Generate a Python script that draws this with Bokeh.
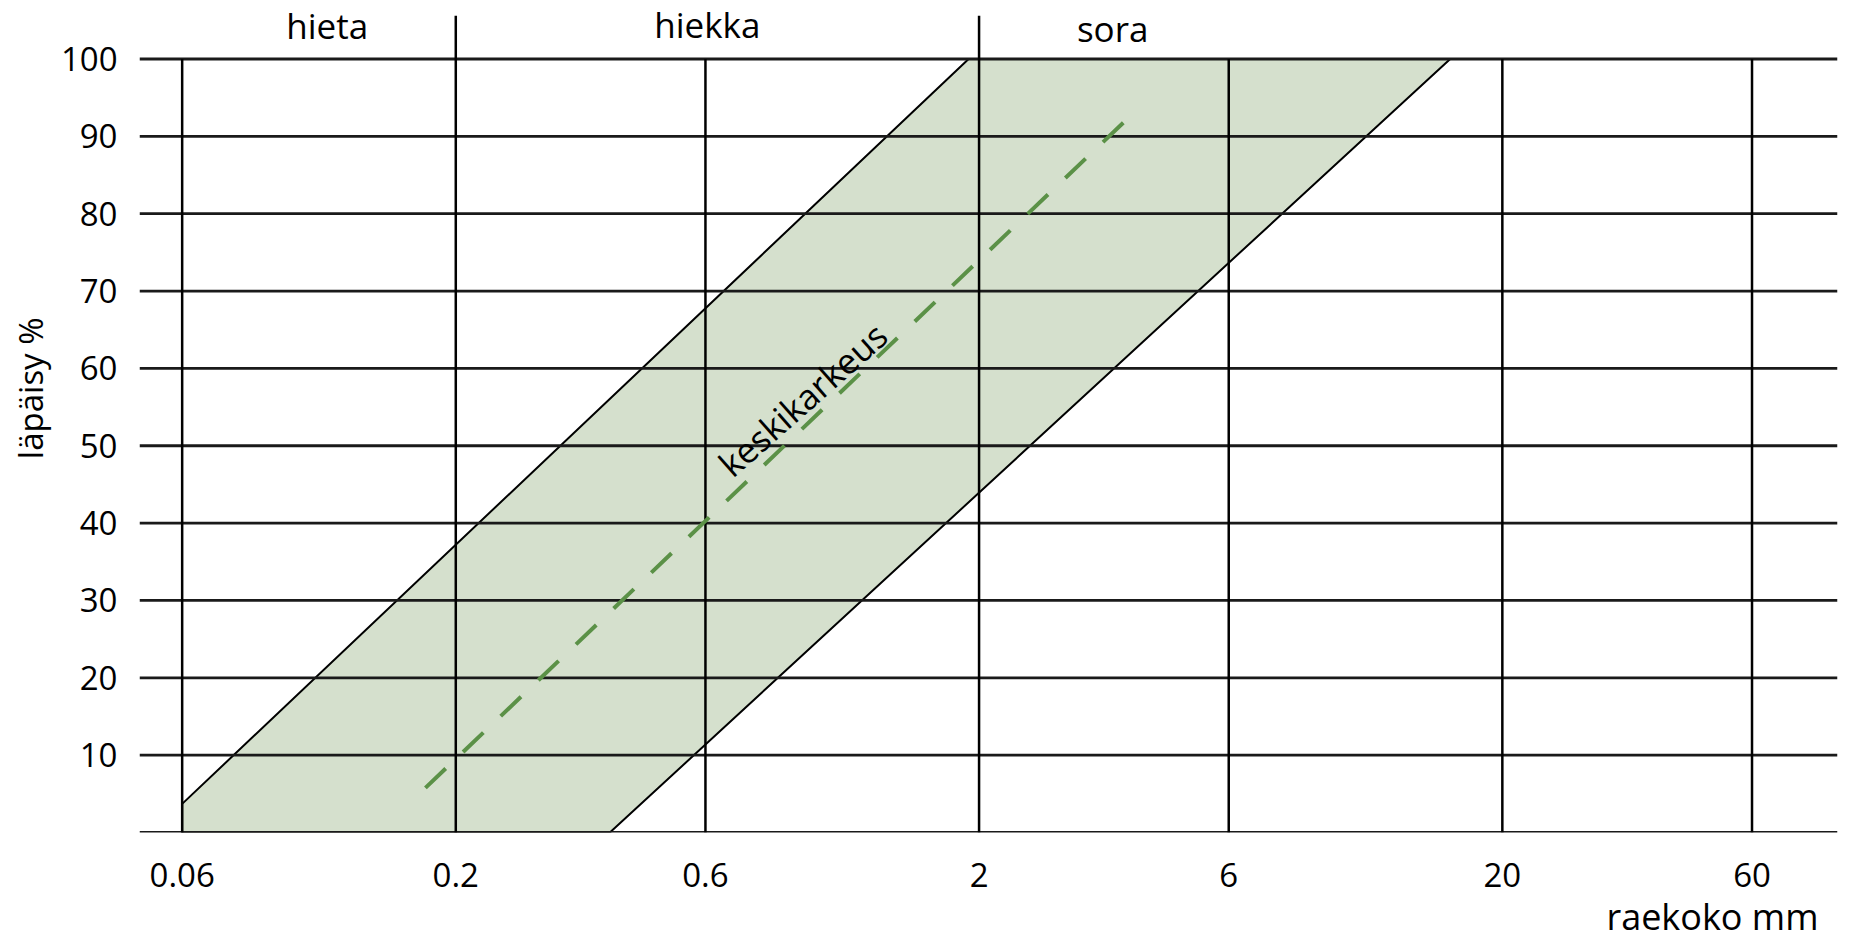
from bokeh.plotting import figure
from bokeh.models import FixedTicker, Label, Title
from bokeh.embed import file_html
from bokeh.resources import INLINE

# ---- data ----
x_ticks = [0.06, 0.2, 0.6, 2, 6, 20, 60]
x_tick_labels = ["0.06", "0.2", "0.6", "2", "6", "20", "60"]
y_ticks = [10, 20, 30, 40, 50, 60, 70, 80, 90, 100]
y_lines = [0, 10, 20, 30, 40, 50, 60, 70, 80, 90, 100]

# grading band (passing %, grain size mm)
band_x = [0.06, 0.06, 1.91, 15.9, 0.394]
band_y = [0, 3.7, 100, 100, 0]

# median line "keskikarkeus"
median_x = [0.175, 3.93]
median_y = [5.77, 92.9]

# soil class names and borders
class_names = ["hieta", "hiekka", "sora"]
class_x = [0.1136, 0.605, 3.60]
class_y = [104.3, 104.4, 103.9]
class_bounds = [0.2, 2]
class_bound_top = 105.6

X_MIN, X_MAX = 0.04973, 87.4
Y_MIN, Y_MAX = 0, 106.27

FONT = "Open Sans"

W, H = 1865, 940
p = figure(width=W, height=H, x_axis_type="log",
           x_range=(X_MIN, X_MAX), y_range=(Y_MIN, Y_MAX),
           output_backend="svg", toolbar_location=None,
           min_border_left=137, min_border_right=W - 1837,
           min_border_bottom=H - 832, min_border_top=10)
p.outline_line_color = None
p.grid.visible = False
p.background_fill_color = "white"

# band fill + outline
p.patch(band_x, band_y, fill_color="#d5e0cd", line_color="black", line_width=2)

# horizontal lines
p.segment(x0=[X_MIN] * len(y_lines), x1=[X_MAX] * len(y_lines),
          y0=y_lines, y1=y_lines, line_color="#1a1a1a", line_width=2.8)
# vertical lines
p.segment(x0=x_ticks, x1=x_ticks, y0=[0] * len(x_ticks), y1=[100] * len(x_ticks),
          line_color="black", line_width=2.5)
# class borders above the chart
p.segment(x0=class_bounds, x1=class_bounds, y0=[100] * len(class_bounds),
          y1=[class_bound_top] * len(class_bounds), line_color="black", line_width=2.5)

# median dashed line
p.line(median_x, median_y, line_color="#5b9147", line_width=4, line_dash="28 24")

# axes
p.xaxis.ticker = FixedTicker(ticks=x_ticks)
p.xaxis.major_label_overrides = {t: l for t, l in zip(x_ticks, x_tick_labels)}
p.yaxis.ticker = FixedTicker(ticks=y_ticks)
for ax in (p.xaxis[0], p.yaxis[0]):
    ax.axis_line_color = None
    ax.major_tick_line_color = None
    ax.minor_tick_line_color = None
    ax.major_label_text_font = FONT
    ax.major_label_text_font_size = "33px"
    ax.major_label_text_color = "black"
p.xaxis.major_label_standoff = 24
p.yaxis.major_label_standoff = 16

# texts
for name, cx, cy in zip(class_names, class_x, class_y):
    p.add_layout(Label(x=cx, y=cy, text=name, text_font=FONT, text_font_size="35px",
                       text_align="center", text_baseline="middle",
                       text_color="black"))

p.add_layout(Label(x=0.92, y=56.0, text="keskikarkeus", angle=41.5, angle_units="deg",
                   text_font=FONT, text_font_size="35px", text_align="center",
                   text_baseline="middle", text_color="black"))

p.add_layout(Title(text="raekoko mm", align="right", offset=19, standoff=0,
                   text_font=FONT, text_font_size="36px", text_font_style="normal",
                   text_color="black"), "below")

p.add_layout(Title(text="läpäisy %", align="right", offset=307, text_font=FONT,
                   text_font_size="33px", text_font_style="normal",
                   text_color="black"), "left")

open("out.html", "w").write(file_html(p, INLINE))
